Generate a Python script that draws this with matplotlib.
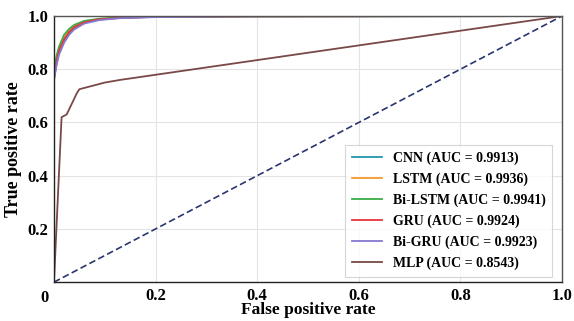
import matplotlib
matplotlib.use("Agg")
import matplotlib.pyplot as plt

models = ["CNN", "LSTM", "Bi-LSTM", "GRU", "Bi-GRU", "MLP"]
aucs = ["0.9913", "0.9936", "0.9941", "0.9924", "0.9923", "0.8543"]
colors = ["#2196b0", "#f59a2a", "#3aae45", "#e6343a", "#8878d0", "#7a4848"]

fpr_cnn = [0, 0, 0.005, 0.01, 0.02, 0.03, 0.04, 0.06, 0.09, 0.13, 0.2, 0.4, 1.0]
tpr_cnn = [0, 0.76, 0.82, 0.86, 0.905, 0.935, 0.955, 0.975, 0.987, 0.993, 0.997, 0.999, 1.0]
fpr_lstm = [0, 0, 0.005, 0.01, 0.02, 0.03, 0.04, 0.06, 0.09, 0.13, 0.2, 0.4, 1.0]
tpr_lstm = [0, 0.78, 0.84, 0.875, 0.92, 0.945, 0.962, 0.979, 0.989, 0.994, 0.997, 0.999, 1.0]
fpr_bilstm = [0, 0, 0.005, 0.01, 0.02, 0.03, 0.04, 0.06, 0.09, 0.13, 0.2, 0.4, 1.0]
tpr_bilstm = [0, 0.79, 0.85, 0.885, 0.93, 0.952, 0.967, 0.982, 0.99, 0.995, 0.998, 0.999, 1.0]
fpr_gru = [0, 0, 0.005, 0.01, 0.02, 0.03, 0.04, 0.06, 0.09, 0.13, 0.2, 0.4, 1.0]
tpr_gru = [0, 0.77, 0.83, 0.87, 0.912, 0.94, 0.958, 0.977, 0.988, 0.993, 0.997, 0.999, 1.0]
fpr_bigru = [0, 0, 0.005, 0.01, 0.02, 0.03, 0.04, 0.06, 0.09, 0.13, 0.2, 0.4, 1.0]
tpr_bigru = [0, 0.76, 0.815, 0.855, 0.9, 0.93, 0.95, 0.972, 0.985, 0.992, 0.996, 0.999, 1.0]
fpr_mlp = [0, 0.015, 0.025, 0.045, 0.05, 0.1, 0.13, 1.0]
tpr_mlp = [0, 0.62, 0.63, 0.71, 0.725, 0.75, 0.76, 1.0]

fprs = [fpr_cnn, fpr_lstm, fpr_bilstm, fpr_gru, fpr_bigru, fpr_mlp]
tprs = [tpr_cnn, tpr_lstm, tpr_bilstm, tpr_gru, tpr_bigru, tpr_mlp]

xticks = [0, 0.2, 0.4, 0.6, 0.8, 1.0]
xticklabels = ["", "0.2", "0.4", "0.6", "0.8", "1.0"]
yticks = [0.2, 0.4, 0.6, 0.8, 1.0]
yticklabels = ["0.2", "0.4", "0.6", "0.8", "1.0"]
origin_label = "0"

plt.rcParams['font.family'] = ['Liberation Serif', 'DejaVu Serif']
plt.rcParams['font.weight'] = 'bold'

fig = plt.figure(figsize=(5.74, 3.21), dpi=100)
ax = fig.add_axes([0.094, 0.121, 0.885, 0.829])

for m, a, c, fx, ty in zip(models, aucs, colors, fprs, tprs):
    ax.plot(fx, ty, color=c, lw=1.3, label=f"{m} (AUC = {a})")
ax.plot([0, 1], [0, 1], color="#2b3570", lw=1.2, ls=(0, (4, 2)))

ax.set_xlim(0, 1)
ax.set_ylim(0, 1)
ax.set_xticks(xticks)
ax.set_xticklabels(xticklabels, fontsize=12, fontweight='bold')
ax.set_yticks(yticks)
ax.set_yticklabels(yticklabels, fontsize=12, fontweight='bold')
ax.tick_params(length=0, pad=4)
ax.text(-0.018, -0.03, origin_label, transform=ax.transAxes, ha='center', va='top',
        fontsize=12, fontweight='bold')
ax.grid(True, color="#e4e4e4", lw=0.8)
for s in ax.spines.values():
    s.set_color("#555555")
    s.set_linewidth(1.0)
ax.spines['left'].set_color("#222222")
ax.spines['bottom'].set_color("#222222")
ax.set_xlabel("False positive rate", fontsize=12.5, fontweight='bold', labelpad=-1)
ax.set_ylabel("True positive rate", fontsize=13, fontweight='bold', labelpad=4)

leg = ax.legend(loc="lower right", fontsize=10, frameon=True, fancybox=False,
                edgecolor="#cccccc", handlelength=2.2, handletextpad=0.8, borderpad=0.45,
                labelspacing=0.55, bbox_to_anchor=(0.995, -0.005))
leg.get_frame().set_linewidth(0.8)
for t in leg.get_texts():
    t.set_fontweight('bold')

fig.savefig("out.png", dpi=100)
